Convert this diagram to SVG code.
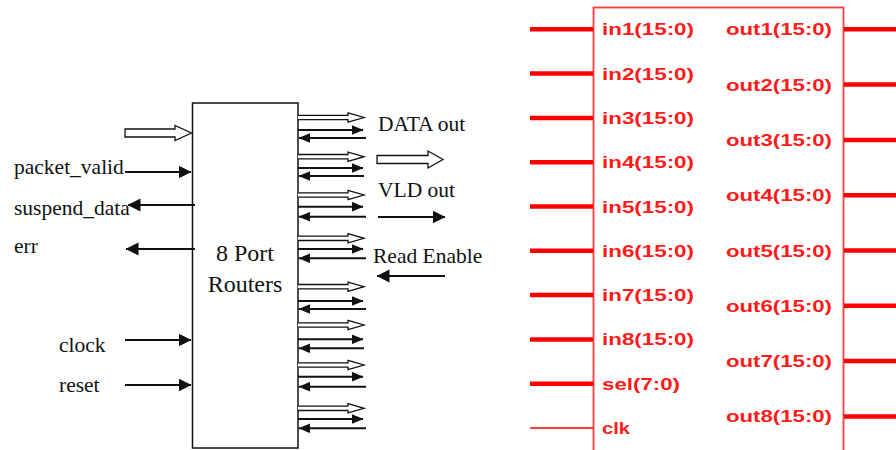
<svg xmlns="http://www.w3.org/2000/svg" xmlns:xlink="http://www.w3.org/1999/xlink" width="896" height="450" viewBox="0 0 896 450">
<style>
.lt{font-family:"Liberation Serif","Times New Roman",serif;font-size:21.5px;fill:#111}
.bt{font-family:"Liberation Serif","Times New Roman",serif;font-size:24px;fill:#111;text-anchor:middle}
.lnL{stroke:#111;stroke-width:2;fill:none;marker-end:url(#ahL)}
.lnS{stroke:#111;stroke-width:2;fill:none;marker-end:url(#ahS)}
.hol{fill:#fff;stroke:#111;stroke-width:1.3}
.rt{font-family:"Liberation Sans",Arial,sans-serif;font-size:16px;font-weight:bold;fill:#ff1a1a}
.bus{stroke:#ff0000;stroke-width:4.5}
.wire{stroke:#ff0000;stroke-width:1.5}
</style>
<defs>
<marker id="ahL" markerUnits="userSpaceOnUse" markerWidth="13" markerHeight="14" refX="12.5" refY="7" orient="auto">
<path d="M0,0.5 L13,7 L0,13.5 Z" fill="#111"/>
</marker>
<marker id="ahS" markerUnits="userSpaceOnUse" markerWidth="12" markerHeight="10" refX="11" refY="5" orient="auto">
<path d="M0,0.2 L11.5,5 L0,9.8 Z" fill="#111"/>
</marker>
<path id="hs" class="hol" d="M0,-2.2 H50 V-4.6 L66,0 L50,4.6 V2.2 H0"/>
</defs>

<g id="router">
<rect x="192.5" y="103" width="105.5" height="345" fill="#fff" stroke="#111" stroke-width="1.5"/>
<text class="bt" x="245" y="261">8 Port</text>
<text class="bt" x="245" y="292">Routers</text>
</g>

<g id="left-labels">
<text class="lt" x="14" y="174">packet_valid</text>
<text class="lt" x="14" y="215">suspend_data</text>
<text class="lt" x="14" y="253">err</text>
<text class="lt" x="59" y="352">clock</text>
<text class="lt" x="59" y="392">reset</text>
</g>

<g id="legend">
<text class="lt" x="378" y="131">DATA out</text>
<text class="lt" x="378" y="197">VLD out</text>
<text class="lt" x="373" y="263">Read Enable</text>
</g>

<g id="connectors">
<path class="hol" d="M125,129 H175 V125.5 L191.5,133 L175,140.5 V137 H125 Z"/>
<line class="lnL" x1="125" y1="172" x2="191" y2="172"/>
<line class="lnL" x1="195" y1="205" x2="128" y2="205"/>
<line class="lnL" x1="195" y1="249" x2="126" y2="249"/>
<line class="lnL" x1="125" y1="340" x2="191" y2="340"/>
<line class="lnL" x1="125" y1="385" x2="191" y2="385"/>

<path class="hol" d="M377,155.5 H428 V151 L443,159.5 L428,168 V163.5 H377 Z"/>
<line class="lnL" x1="378" y1="217" x2="445" y2="217"/>
<line class="lnL" x1="445" y1="276" x2="377" y2="276"/>

<use xlink:href="#hs" x="298" y="117.5"/>
<line class="lnS" x1="298" y1="130" x2="363" y2="130"/>
<line class="lnS" x1="366" y1="138" x2="299" y2="138"/>

<use xlink:href="#hs" x="298" y="156.7"/>
<line class="lnS" x1="298" y1="168" x2="363" y2="168"/>
<line class="lnS" x1="364" y1="176" x2="299" y2="176"/>

<use xlink:href="#hs" x="298" y="195"/>
<line class="lnS" x1="298" y1="206.7" x2="363" y2="206.7"/>
<line class="lnS" x1="366" y1="216.7" x2="299" y2="216.7"/>

<use xlink:href="#hs" x="298" y="238.3"/>
<line class="lnS" x1="298" y1="249" x2="363" y2="249"/>
<line class="lnS" x1="366" y1="258.3" x2="299" y2="258.3"/>

<use xlink:href="#hs" x="298" y="286.7"/>
<line class="lnS" x1="298" y1="301" x2="363" y2="301"/>
<line class="lnS" x1="366" y1="309" x2="299" y2="309"/>

<use xlink:href="#hs" x="298" y="325"/>
<line class="lnS" x1="298" y1="339.3" x2="363" y2="339.3"/>
<line class="lnS" x1="364" y1="348.3" x2="299" y2="348.3"/>

<use xlink:href="#hs" x="298" y="365"/>
<line class="lnS" x1="298" y1="376.7" x2="363" y2="376.7"/>
<line class="lnS" x1="366" y1="386.7" x2="299" y2="386.7"/>

<use xlink:href="#hs" x="298" y="408.3"/>
<line class="lnS" x1="298" y1="419" x2="363" y2="419"/>
<line class="lnS" x1="366" y1="428.3" x2="299" y2="428.3"/>
</g>

<g id="schematic">
<rect x="593.5" y="7.5" width="250" height="460" fill="#fff" stroke="#ff3b3b" stroke-width="1.8"/>
<g id="inputs">
<line class="bus" x1="530" y1="29.3" x2="593" y2="29.3"/>
<line class="bus" x1="530" y1="73.6" x2="593" y2="73.6"/>
<line class="bus" x1="530" y1="117.9" x2="593" y2="117.9"/>
<line class="bus" x1="530" y1="162.2" x2="593" y2="162.2"/>
<line class="bus" x1="530" y1="206.5" x2="593" y2="206.5"/>
<line class="bus" x1="530" y1="250.8" x2="593" y2="250.8"/>
<line class="bus" x1="530" y1="295.1" x2="593" y2="295.1"/>
<line class="bus" x1="530" y1="339.4" x2="593" y2="339.4"/>
<line class="bus" x1="530" y1="383.7" x2="593" y2="383.7"/>
<line class="wire" x1="530" y1="428" x2="593" y2="428"/>
<text class="rt" x="602" y="35.3" textLength="92" lengthAdjust="spacingAndGlyphs">in1(15:0)</text>
<text class="rt" x="602" y="79.6" textLength="92" lengthAdjust="spacingAndGlyphs">in2(15:0)</text>
<text class="rt" x="602" y="123.9" textLength="92" lengthAdjust="spacingAndGlyphs">in3(15:0)</text>
<text class="rt" x="602" y="168.2" textLength="92" lengthAdjust="spacingAndGlyphs">in4(15:0)</text>
<text class="rt" x="602" y="212.5" textLength="92" lengthAdjust="spacingAndGlyphs">in5(15:0)</text>
<text class="rt" x="602" y="256.8" textLength="92" lengthAdjust="spacingAndGlyphs">in6(15:0)</text>
<text class="rt" x="602" y="301.1" textLength="92" lengthAdjust="spacingAndGlyphs">in7(15:0)</text>
<text class="rt" x="602" y="345.4" textLength="92" lengthAdjust="spacingAndGlyphs">in8(15:0)</text>
<text class="rt" x="602" y="389.7" textLength="78" lengthAdjust="spacingAndGlyphs">sel(7:0)</text>
<text class="rt" x="602" y="434" textLength="28" lengthAdjust="spacingAndGlyphs">clk</text>
</g>
<g id="outputs">
<line class="bus" x1="844" y1="29.3" x2="896" y2="29.3"/>
<line class="bus" x1="844" y1="84.6" x2="896" y2="84.6"/>
<line class="bus" x1="844" y1="139.9" x2="896" y2="139.9"/>
<line class="bus" x1="844" y1="195.2" x2="896" y2="195.2"/>
<line class="bus" x1="844" y1="250.5" x2="896" y2="250.5"/>
<line class="bus" x1="844" y1="305.8" x2="896" y2="305.8"/>
<line class="bus" x1="844" y1="361.1" x2="896" y2="361.1"/>
<line class="bus" x1="844" y1="416.4" x2="896" y2="416.4"/>
<text class="rt" x="726" y="35.3" textLength="106" lengthAdjust="spacingAndGlyphs">out1(15:0)</text>
<text class="rt" x="726" y="90.6" textLength="106" lengthAdjust="spacingAndGlyphs">out2(15:0)</text>
<text class="rt" x="726" y="145.9" textLength="106" lengthAdjust="spacingAndGlyphs">out3(15:0)</text>
<text class="rt" x="726" y="201.2" textLength="106" lengthAdjust="spacingAndGlyphs">out4(15:0)</text>
<text class="rt" x="726" y="256.5" textLength="106" lengthAdjust="spacingAndGlyphs">out5(15:0)</text>
<text class="rt" x="726" y="311.8" textLength="106" lengthAdjust="spacingAndGlyphs">out6(15:0)</text>
<text class="rt" x="726" y="367.1" textLength="106" lengthAdjust="spacingAndGlyphs">out7(15:0)</text>
<text class="rt" x="726" y="422.4" textLength="106" lengthAdjust="spacingAndGlyphs">out8(15:0)</text>
</g>
</g>
</svg>
